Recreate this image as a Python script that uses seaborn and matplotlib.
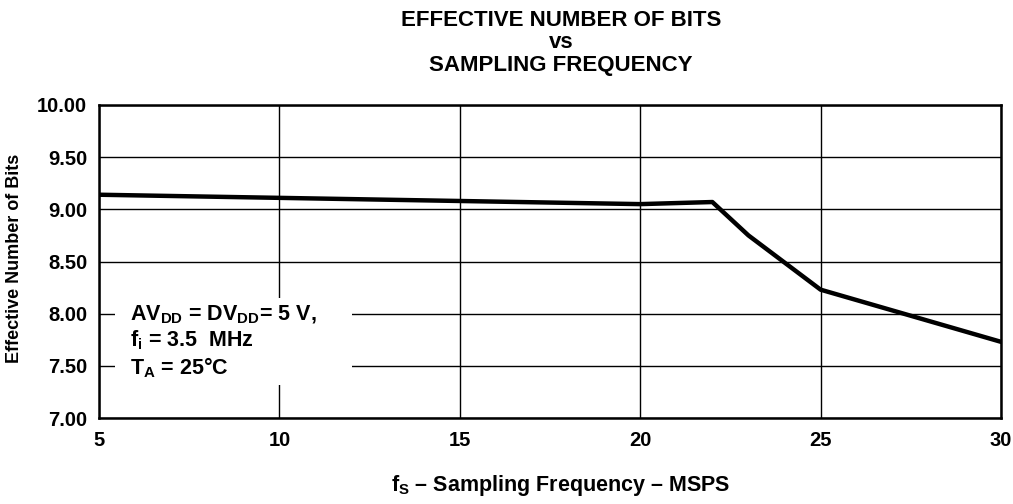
import matplotlib
matplotlib.use("Agg")
import matplotlib.pyplot as plt
from matplotlib.patches import Rectangle
import seaborn as sns
import pandas as pd

freq_msps = [5, 10, 15, 20, 22, 23, 25, 30]
enob_bits = [9.14, 9.11, 9.08, 9.05, 9.07, 8.75, 8.23, 7.73]
x_ticks = [5, 10, 15, 20, 25, 30]
y_ticks = [7.00, 7.50, 8.00, 8.50, 9.00, 9.50, 10.00]

sns.set_theme(style="white")
plt.rcParams['font.family'] = ['Liberation Sans', 'DejaVu Sans']
plt.rcParams['font.weight'] = 'bold'
plt.rcParams['text.color'] = 'black'
plt.rcParams['axes.labelcolor'] = 'black'
plt.rcParams['xtick.color'] = 'black'
plt.rcParams['ytick.color'] = 'black'
plt.rcParams['mathtext.fontset'] = 'custom'
plt.rcParams['mathtext.rm'] = 'Liberation Sans:bold'
plt.rcParams['mathtext.it'] = 'Liberation Sans:bold'
plt.rcParams['mathtext.bf'] = 'Liberation Sans:bold'
plt.rcParams['mathtext.default'] = 'rm'

df = pd.DataFrame({"f": freq_msps, "enob": enob_bits})

fig = plt.figure(figsize=(10.13, 5.04), dpi=100)
ax = fig.add_axes([99/1013, 1 - 418/504, (1001-99)/1013, (418-105)/504])
sns.lineplot(data=df, x="f", y="enob", ax=ax, color="black", linewidth=3.2, zorder=3)

ax.set_xlim(5, 30)
ax.set_ylim(7, 10)
ax.tick_params(axis='x', length=0, pad=9, colors='black', labelsize=14.5)
ax.tick_params(axis='y', length=0, pad=8.5, colors='black', labelsize=14.5)
ax.set_xticks(x_ticks)
ax.set_yticks(y_ticks)
ax.set_xticklabels([str(t) for t in x_ticks])
ax.set_yticklabels([f"{t:.2f}" for t in y_ticks])
for lab in ax.get_xticklabels() + ax.get_yticklabels():
    lab.set_fontweight('bold')
    lab.set_fontsize(14.5)
ax.grid(True, color='black', linewidth=1.0)
for s in ax.spines.values():
    s.set_color('black')
    s.set_linewidth(1.8)
ax.set_xlabel("")
ax.set_ylabel("")

# white box hiding gridlines behind the conditions text
ax.add_patch(Rectangle((5.44, 7.32), 6.57, 0.83, facecolor='white', edgecolor='none', zorder=2.5))
ax.text(5.86, 7.73, "AV$_{DD}$ = DV$_{DD}$= 5 V,\nf$_{i}$ = 3.5  MHz\nT$_{A}$ = 25°C",
        fontsize=15.5, fontweight='bold', va='center', ha='left', zorder=4,
        linespacing=1.15)

fig.text(15/1013, 1 - 258/504, "Effective Number of Bits", rotation=90, ha='center', va='center',
         fontsize=13, fontweight='bold')
fig.text(561/1013, 1 - 21/504, "EFFECTIVE NUMBER OF BITS", ha='center', va='center', fontsize=16, fontweight='bold')
fig.text(561/1013, 1 - 43/504, "vs", ha='center', va='center', fontsize=16, fontweight='bold')
fig.text(561/1013, 1 - 65/504, "SAMPLING FREQUENCY", ha='center', va='center', fontsize=16, fontweight='bold')
fig.text(561/1013, 1 - 486/504, "f$_{S}$ – Sampling Frequency – MSPS", ha='center', va='center', fontsize=15.5, fontweight='bold')

fig.savefig("out.png", dpi=100, facecolor='white')
